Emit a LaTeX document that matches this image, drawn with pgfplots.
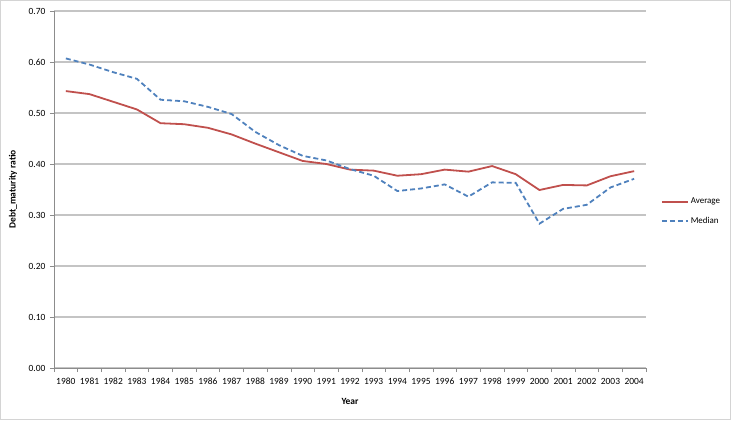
\documentclass[border=0pt]{standalone}
\usepackage{pgfplots}
\pgfplotsset{compat=1.18}
\usepackage{fontspec}
\setmainfont{Carlito}

\definecolor{avgred}{HTML}{C0504D}
\definecolor{medblue}{HTML}{4F81BD}
\definecolor{gridgray}{HTML}{C4C4C4}
\definecolor{axisgray}{HTML}{8C8C8C}
\definecolor{framegray}{HTML}{D4D4D4}

% Debt maturity ratio by year (index 0 = 1980)
\pgfplotstableread{
idx average median
0  0.543 0.607
1  0.537 0.595
2  0.522 0.580
3  0.507 0.567
4  0.480 0.526
5  0.478 0.523
6  0.471 0.512
7  0.458 0.498
8  0.440 0.463
9  0.423 0.437
10 0.406 0.416
11 0.400 0.407
12 0.389 0.390
13 0.387 0.377
14 0.377 0.347
15 0.380 0.352
16 0.389 0.360
17 0.385 0.336
18 0.396 0.364
19 0.380 0.363
20 0.349 0.283
21 0.359 0.312
22 0.358 0.320
23 0.376 0.354
24 0.386 0.371
}\ratios

\begin{document}
\begin{tikzpicture}
\begin{axis}[
  at={(0,0)}, anchor=south west,
  scale only axis,
  width=592bp, height=357bp,
  xmin=-0.5, xmax=24.5,
  ymin=0, ymax=0.7,
  xtick={0,...,24},
  xticklabels={1980,1981,1982,1983,1984,1985,1986,1987,1988,1989,1990,1991,1992,1993,1994,1995,1996,1997,1998,1999,2000,2001,2002,2003,2004},
  minor xtick={-0.5,0.5,...,24.5},
  major x tick style={draw=none},
  minor x tick style={axisgray, line width=0.6bp},
  ytick={0,0.1,...,0.7},
  y tick style={axisgray, line width=0.6bp},
  tick align=outside,
  major tick length=4bp, minor tick length=4bp,
  ymajorgrids,
  major grid style={gridgray, line width=1.1bp},
  axis x line*=bottom, axis y line*=left,
  axis line style={axisgray, line width=0.8bp, -},
  yticklabel style={/pgf/number format/fixed, /pgf/number format/fixed zerofill, /pgf/number format/precision=2},
  /pgf/number format/assume math mode=true,
  tick label style={font=\fontsize{9.5}{11}\selectfont, black},
  xticklabel style={yshift=-3bp},
  yticklabel style={xshift=-1bp},
  xlabel={\textbf{Year}},
  ylabel={\textbf{Debt\_maturity ratio}},
  every axis x label/.style={at={(axis description cs:0.5,-0.095)}, anchor=center, font=\fontsize{9.5}{11}\selectfont},
  every axis y label/.style={at={(axis description cs:-0.0693,0.5)}, anchor=center, rotate=90, font=\fontsize{9.5}{11}\selectfont},
  legend style={draw=none, fill=none, at={(axis description cs:1.025,0.482)}, anchor=north west,
    font=\fontsize{9}{10}\selectfont, row sep=8bp, inner sep=0pt},
  legend cell align=left,
  legend image code/.code={\draw[#1] (0bp,0bp) -- (26bp,0bp);},
]
\addplot[avgred, line width=1.8bp] table[x=idx, y=average] {\ratios};
\addlegendentry{Average}
\addplot[medblue, line width=1.8bp, dash pattern=on 5bp off 3bp] table[x=idx, y=median] {\ratios};
\addlegendentry{Median}
\end{axis}
\draw[framegray, line width=1.2bp] (-53.5bp,-51.5bp) rectangle (676.5bp,367.5bp);
\pgfresetboundingbox
\path[use as bounding box] (-54bp,-58bp) rectangle (678bp,368bp);
\end{tikzpicture}
\end{document}
